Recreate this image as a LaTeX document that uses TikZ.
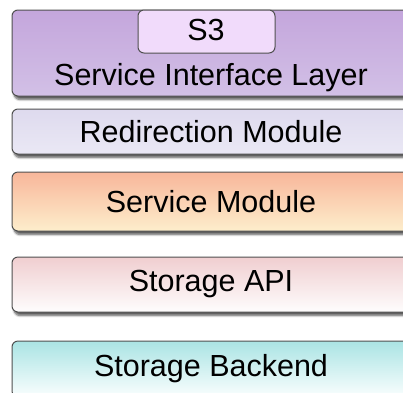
\documentclass[tikz,border=0pt]{standalone}
\usepackage{fontspec}
\setmainfont{Liberation Sans}
\usetikzlibrary{shadows.blur}
\definecolor{silTop}{RGB}{196,166,220}
\definecolor{silBot}{RGB}{210,192,230}
\definecolor{sthree}{RGB}{241,219,251}
\definecolor{redTop}{RGB}{222,218,238}
\definecolor{redBot}{RGB}{234,232,245}
\definecolor{svcTop}{RGB}{248,182,154}
\definecolor{svcBot}{RGB}{253,238,204}
\definecolor{apiTop}{RGB}{240,206,208}
\definecolor{apiBot}{RGB}{254,253,253}
\definecolor{bkTop}{RGB}{170,228,228}
\definecolor{bkBot}{RGB}{250,254,254}
\definecolor{edge}{RGB}{80,80,80}
\begin{document}
\begin{tikzpicture}[x=1pt,y=-1pt,
    layer/.style={draw=edge,line width=1pt,rounded corners=6pt,
      minimum width=398pt,inner sep=0pt,
      font=\fontsize{30.5}{36}\selectfont,
      blur shadow={shadow xshift=2pt,shadow yshift=-3.5pt,shadow opacity=65,
        shadow blur steps=6}},
    tag/.style={draw=edge,line width=1pt,rounded corners=6pt,fill=sthree,
      minimum width=137pt,minimum height=43pt,inner sep=0pt,
      font=\fontsize{30.5}{36}\selectfont},
    caption/.style={inner sep=0pt,anchor=base,font=\fontsize{30.5}{36}\selectfont}]
  \useasboundingbox (0,0) rectangle (403,392);
  \clip (0,0) rectangle (403,392);
  \node[layer,minimum height=86pt,top color=silTop,bottom color=silBot] (sil) at (211,53) {};
  \node[tag] (s3) at (206.5,31.5) {};
  \node[caption] (s3text) at (206,40) {S3};
  \node[caption] (siltext) at (211,85) {Service Interface Layer};
  \node[layer,minimum height=45pt,top color=redTop,bottom color=redBot] (redir) at (211,131.5) {Redirection Module};
  \node[layer,minimum height=59pt,top color=svcTop,bottom color=svcBot] (svc) at (211,201.5) {Service Module};
  \node[layer,minimum height=55pt,top color=apiTop,bottom color=apiBot] (api) at (211,284.5) {Storage API};
  \node[layer,minimum height=56pt,top color=bkTop,bottom color=bkBot] (backend) at (211,369) {Storage Backend};
\end{tikzpicture}
\end{document}
